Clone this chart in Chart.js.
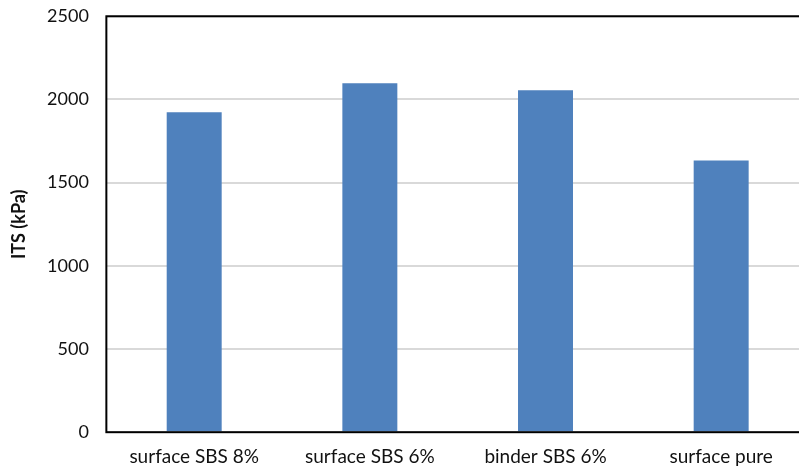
<!DOCTYPE html>
<html>
<head>
<meta charset="utf-8">
<script src="https://cdn.jsdelivr.net/npm/chart.js@4/dist/chart.umd.min.js"></script>
<style>
  html, body { margin: 0; padding: 0; background: #fff; overflow: hidden; width: 799px; height: 467px; }
  #wrap { position: relative; width: 820px; height: 493px; margin-top: -12px; }
</style>
</head>
<body>
<div id="wrap"><canvas id="c"></canvas></div>
<script>
// Indirect tensile strength per mix
const categories = ['surface SBS 8%', 'surface SBS 6%', 'binder SBS 6%', 'surface pure'];
const itsValues = [1923, 2097, 2055, 1633];
const yTicks = [0, 500, 1000, 1500, 2000, 2500];

// Frame around the plot area (left, top, bottom, right)
const plotFrame = {
  id: 'plotFrame',
  afterDatasetsDraw(chart) {
    const { ctx, chartArea: a } = chart;
    ctx.save();
    ctx.strokeStyle = '#000';
    ctx.lineWidth = 2;
    ctx.strokeRect(a.left, a.top, a.right - a.left, a.bottom - a.top);
    ctx.restore();
  }
};

new Chart(document.getElementById('c'), {
  type: 'bar',
  data: {
    labels: categories,
    datasets: [{
      data: itsValues,
      backgroundColor: '#4f81bd',
      borderWidth: 0,
      categoryPercentage: 1,
      barPercentage: 0.313
    }]
  },
  options: {
    responsive: true,
    maintainAspectRatio: false,
    animation: false,
    devicePixelRatio: 1,
    layout: { padding: { top: 8, right: 11, bottom: 0, left: 0 } },
    plugins: { legend: { display: false }, tooltip: { enabled: false } },
    scales: {
      x: {
        grid: { display: false, drawTicks: false },
        border: { display: false },
        ticks: { color: '#111', font: { family: 'Lato', size: 19 }, padding: 13, maxRotation: 0 }
      },
      y: {
        min: yTicks[0],
        max: yTicks[yTicks.length - 1],
        afterBuildTicks(axis) { axis.ticks = yTicks.map(v => ({ value: v })); },
        grid: { color: '#d9d9d9', lineWidth: 2, drawTicks: false },
        border: { display: false },
        ticks: {
          color: '#111',
          font: { family: 'Lato', size: 18 },
          padding: 17.5,
          callback: v => String(v)
        },
        title: {
          display: true,
          text: 'ITS (kPa)',
          color: '#111',
          font: { family: 'Lato', size: 18, weight: 'bold' },
          padding: { top: 8, bottom: 0 }
        }
      }
    }
  },
  plugins: [plotFrame]
});
</script>
</body>
</html>
